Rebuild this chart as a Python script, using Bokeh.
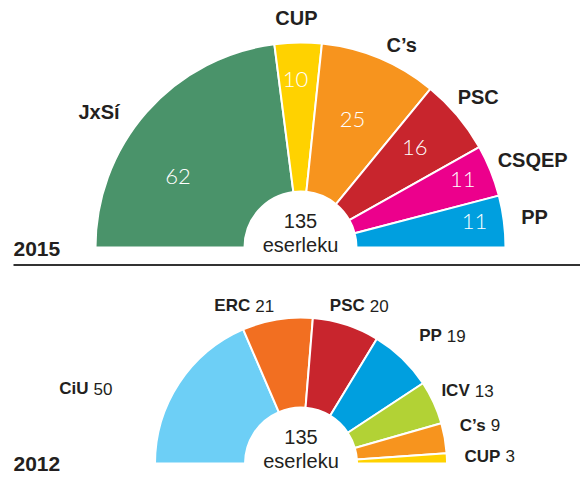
import math
from bokeh.plotting import figure
from bokeh.models import Range1d, ColumnDataSource
from bokeh.core.properties import value
from bokeh.embed import file_html
from bokeh.resources import INLINE

# ---------------- data ----------------
TOTAL_SEATS = 135
seats_label = "eserleku"

parties_2015 = ["JxSí", "CUP", "C’s", "PSC", "CSQEP", "PP"]
seats_2015 = [62, 10, 25, 16, 11, 11]
colors_2015 = ["#4a936a", "#ffd200", "#f7941e", "#c8252d", "#ec008c", "#009fdf"]

parties_2012 = ["CiU", "ERC", "PSC", "PP", "ICV", "C’s", "CUP"]
seats_2012 = [50, 21, 20, 19, 13, 9, 3]
colors_2012 = ["#6dcff6", "#f26f21", "#c8252d", "#009fdf", "#b2d235", "#f7941e", "#ffd200"]

years = ["2015", "2012"]

# ---------------- layout (positions / styles) ----------------
W, H = 580, 477
DARK = "#231f20"

# window-pixel coordinate system (y up): data y = 477 - screen y
p = figure(width=W, height=H, output_backend="svg", toolbar_location=None,
           x_range=Range1d(0, 580), y_range=Range1d(0, 477),
           x_axis_type=None, y_axis_type=None, min_border=0)
p.grid.visible = False
p.outline_line_color = None
p.background_fill_color = "white"
p.border_fill_color = "white"


def wedge_angles(seats):
    starts, ends, mids = [], [], []
    cum = 0
    for s in seats:
        a_end = math.pi - cum * math.pi / TOTAL_SEATS
        cum += s
        a_start = math.pi - cum * math.pi / TOTAL_SEATS
        starts.append(a_start)
        ends.append(a_end)
        mids.append((a_start + a_end) / 2)
    return starts, ends, mids


def polar(cx, cy, deg, r):
    a = math.radians(deg)
    return cx + r * math.cos(a), cy + r * math.sin(a)


def hemicycle(cx, cy, r_out, r_in, seats, colors):
    st, en, mids = wedge_angles(seats)
    src = ColumnDataSource(dict(start=st, end=en, color=colors))
    p.annular_wedge(x=cx, y=cy, inner_radius=r_in, outer_radius=r_out,
                    start_angle="start", end_angle="end", fill_color="color",
                    line_color="white", line_width=2, source=src)
    # centre text
    p.text(x=[cx], y=[cy + 27], text=[str(TOTAL_SEATS)], text_align="center",
           text_baseline="alphabetic", text_font=value("Liberation Sans"),
           text_font_size="20px", text_color=DARK)
    p.text(x=[cx], y=[cy + 3], text=[seats_label], text_align="center",
           text_baseline="alphabetic", text_font=value("Liberation Sans"),
           text_font_size="20px", text_color=DARK)
    return mids


# ---------- 2015 ----------
cx1, cy1 = 300, 230
mids15 = hemicycle(cx1, cy1, 205, 56, seats_2015, colors_2015)

name_pos_15 = [(146, 243), (91, 230), (63.4, 226), (40.3, 233), (20.6, 248), (7.5, 236)]
val_pos_15 = [(150, 141.5), (91.7, 168), (67.9, 138), (41.3, 152), (22.8, 176), (8.5, 176)]

nx, ny = zip(*[polar(cx1, cy1, a, r) for a, r in name_pos_15])
p.text(x=list(nx), y=list(ny), text=parties_2015, text_align="center",
       text_baseline="middle", text_font=value("Liberation Sans"),
       text_font_style="bold", text_font_size="20px", text_color=DARK)
vx, vy = zip(*[polar(cx1, cy1, a, r) for a, r in val_pos_15])
p.text(x=list(vx), y=list(vy), text=[str(s) for s in seats_2015], text_align="center",
       text_baseline="middle", text_font=value("Lato Light"),
       text_font_size="22px", text_color="white")

p.text(x=[13], y=[229], text=[years[0]], text_align="left", text_baseline="alphabetic",
       text_font=value("Liberation Sans"), text_font_style="bold",
       text_font_size="21px", text_color=DARK)

# separator
p.segment(x0=[13], y0=[212.5], x1=[580], y1=[212.5], line_color="#333333", line_width=2)

# ---------- 2012 ----------
cx2, cy2 = 300.5, 14
mids12 = hemicycle(cx2, cy2, 146, 56, seats_2012, colors_2012)

anchor_12 = [(160.4, 223), (107, 165), (67.2, 171), (41.7, 192), (23, 186), (11.5, 191), (2, 202)]
ax, ay = zip(*[polar(cx2, cy2, a, r) for a, r in anchor_12])
p.text(x=[x - 2.5 for x in ax], y=list(ay), text=parties_2012, text_align="right",
       text_baseline="middle", text_font=value("Liberation Sans"),
       text_font_style="bold", text_font_size="17px", text_color=DARK)
p.text(x=[x + 2.5 for x in ax], y=list(ay), text=[str(s) for s in seats_2012],
       text_align="left", text_baseline="middle", text_font=value("Liberation Sans"),
       text_font_size="17px", text_color=DARK)

p.text(x=[13], y=[14], text=[years[1]], text_align="left", text_baseline="alphabetic",
       text_font=value("Liberation Sans"), text_font_style="bold",
       text_font_size="21px", text_color=DARK)

open("out.html", "w").write(file_html(p, INLINE))
